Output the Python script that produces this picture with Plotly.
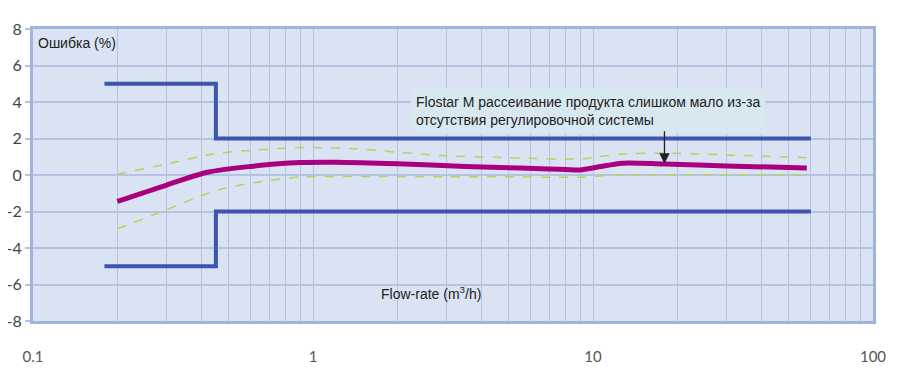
import math
import plotly.graph_objects as go

# ---- data ----
limit_x = [0.18, 0.45, 0.45, 60]
limit_upper = [5, 5, 2, 2]
limit_lower = [-5, -5, -2, -2]

err_x = [0.2, 0.3, 0.42, 0.6, 0.9, 1.2, 2.0, 3.5, 5.5, 8.0, 9.0, 10.5, 12.8, 18, 30, 58]
err_y = [-1.45, -0.55, 0.15, 0.47, 0.68, 0.7, 0.62, 0.47, 0.38, 0.3, 0.28, 0.45, 0.65, 0.6, 0.5, 0.38]

up_x = [0.2, 0.3, 0.44, 0.6, 0.9, 1.5, 2.0, 3.0, 5.0, 9.0, 10.5, 12.8, 18, 30, 58]
up_y = [0.05, 0.6, 1.15, 1.35, 1.5, 1.42, 1.25, 1.05, 0.95, 0.88, 1.0, 1.15, 1.2, 1.1, 0.95]

lo_x = [0.2, 0.3, 0.44, 0.6, 0.9, 1.5, 3.0, 5.0, 9.0, 10.5, 12.8, 18, 58]
lo_y = [-2.95, -1.9, -0.9, -0.45, -0.12, -0.08, -0.1, -0.1, -0.12, -0.05, 0.0, 0.0, 0.0]

x_ticks = [0.1, 1, 10, 100]
x_ticktext = ["0.1", "1", "10", "100"]
y_ticks = [-8, -6, -4, -2, 0, 2, 4, 6, 8]
y_ticktext = ["-8", "-6", "-4", "-2", "0", "2", "4", "6", "8"]

note_text = ("Flostar M рассеивание продукта слишком мало из-за<br>"
             "отсутствия регулировочной системы")
note_point = (18, 0.62)

# ---- style ----
BG = "#d9e3f3"
GRID = "#b4c4e0"
BORDER = "#9fb4dc"
BLUE = "#3e55b0"
MAGENTA = "#a8007f"
GREEN = "#b4d45a"

fig = go.Figure()
for yy in (limit_upper, limit_lower):
    fig.add_trace(go.Scatter(x=limit_x, y=yy, mode="lines",
                             line=dict(color=BLUE, width=4), hoverinfo="skip"))
fig.add_trace(go.Scatter(x=up_x, y=up_y, mode="lines",
                         line=dict(color=GREEN, width=1.5, dash="dash", shape="spline", smoothing=0.8)))
fig.add_trace(go.Scatter(x=lo_x, y=lo_y, mode="lines",
                         line=dict(color=GREEN, width=1.5, dash="dash", shape="spline", smoothing=0.8)))
fig.add_trace(go.Scatter(x=err_x, y=err_y, mode="lines",
                         line=dict(color=MAGENTA, width=5, shape="spline", smoothing=0.8)))

minor_vals = [k * 10 ** e for e in (-1, 0, 1) for k in range(2, 10)]

# page body has an 8px default margin, so the figure is sized/offset to compensate
fig.update_layout(
    width=892, height=382,
    margin=dict(l=25, r=27, t=21, b=69),
    paper_bgcolor="white", plot_bgcolor=BG,
    showlegend=False,
    font=dict(family="Lato, Open Sans, sans-serif", color="#555555"),
    xaxis=dict(type="log", range=[-1, 2], tickvals=x_ticks, ticktext=x_ticktext,
               showgrid=True, gridcolor=GRID, gridwidth=1,
               minor=dict(tickvals=minor_vals, showgrid=True, gridcolor=GRID, gridwidth=1),
               showline=True, linecolor=BORDER, linewidth=3, mirror=True,
               ticks="", ticklabelstandoff=20, tickfont=dict(size=15, color="#555555"),
               zeroline=False, automargin=False),
    yaxis=dict(range=[-8, 8], tickvals=y_ticks, ticktext=y_ticktext,
               showgrid=True, gridcolor=GRID, gridwidth=1.5,
               showline=True, linecolor=BORDER, linewidth=3, mirror=True,
               ticks="outside", ticklen=5, tickcolor=GRID, tickwidth=1.5,
               tickfont=dict(size=16, color="#444444"), zeroline=False, automargin=False),
)

# y-axis title inside plot
fig.add_annotation(xref="paper", yref="paper", x=0.004, y=0.985, xanchor="left", yanchor="top",
                   text="Ошибка (%)", showarrow=False,
                   font=dict(family="Liberation Sans, Arial, sans-serif", size=14, color="#222222"))
# x-axis title inside plot
fig.add_annotation(xref="paper", yref="paper", x=0.474, y=0.096, xanchor="center", yanchor="middle",
                   text="Flow-rate (m<sup>3</sup>/h)", showarrow=False,
                   font=dict(family="Liberation Sans, Arial, sans-serif", size=14, color="#222222"))
# note box
fig.add_annotation(xref="paper", yref="paper", x=0.449, y=0.798, xanchor="left", yanchor="top",
                   text=note_text, showarrow=False, align="left",
                   bgcolor="#d8e8f0", borderpad=5,
                   font=dict(family="Liberation Sans, Arial, sans-serif", size=14, color="#222222"))
# arrow
fig.add_annotation(x=math.log10(note_point[0]), y=note_point[1], xref="x", yref="y",
                   text="", showarrow=True, ax=0, ay=-34,
                   arrowhead=2, arrowsize=1.6, arrowwidth=1.3, arrowcolor="#222222")

fig.write_html("out.html")
